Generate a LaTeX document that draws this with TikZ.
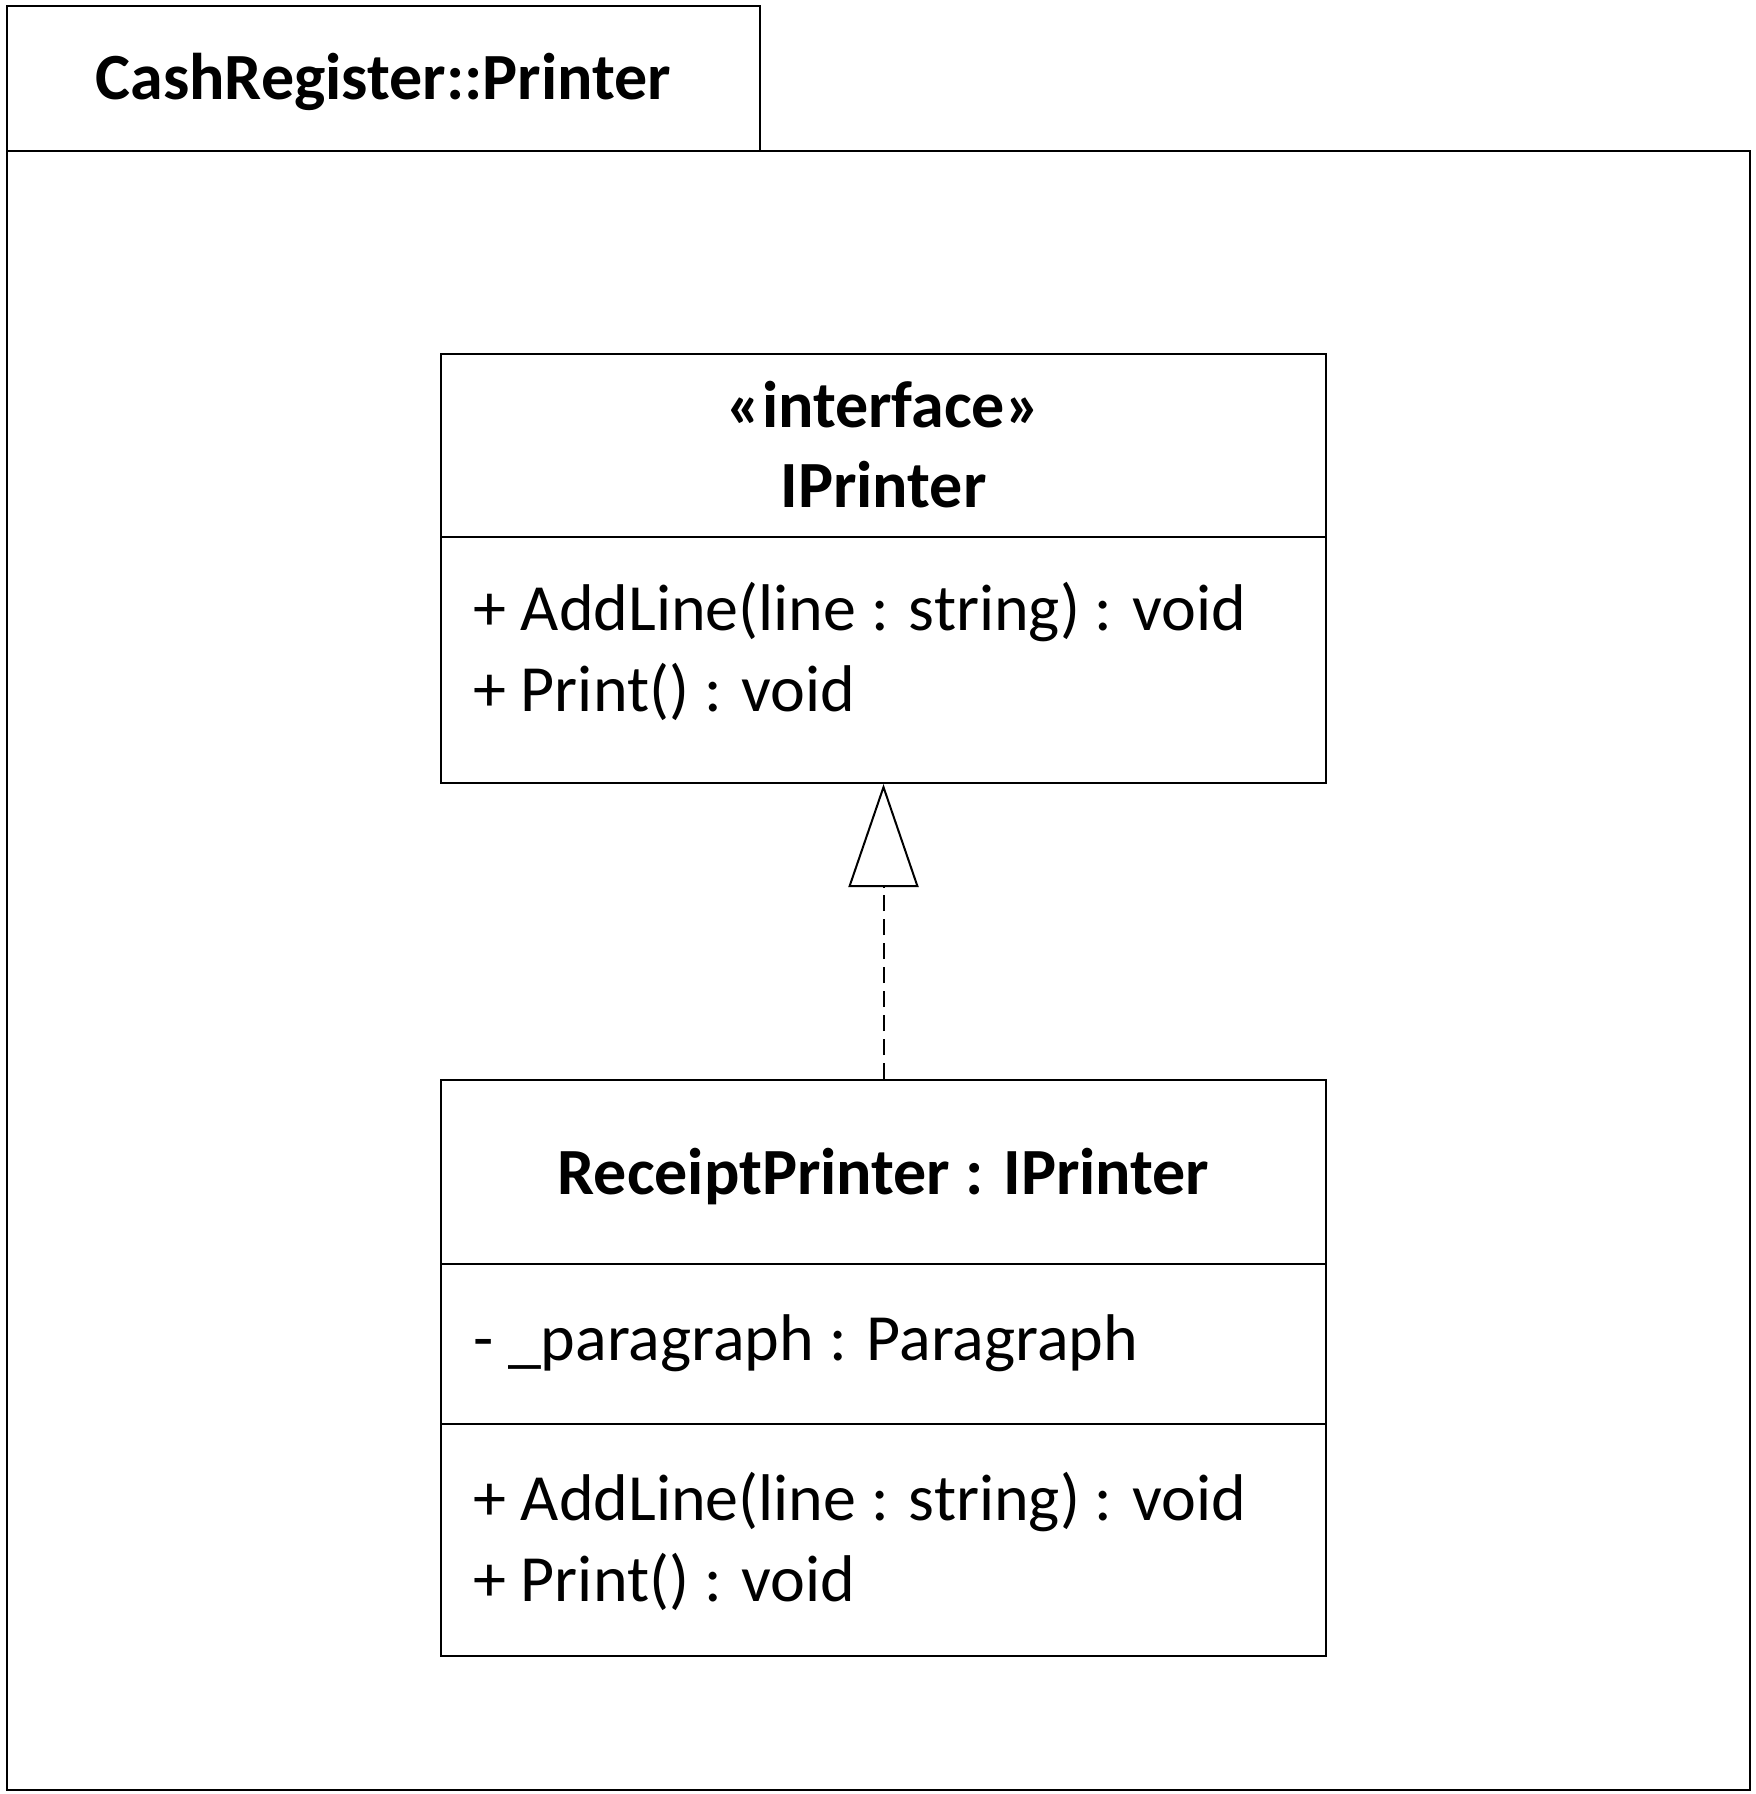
\documentclass[tikz,border=0pt]{standalone}
\usepackage{fontspec}
\setmainfont{Carlito}
\usetikzlibrary{arrows.meta, positioning}
\newcommand{\umlsize}{\fontsize{33}{40.5}\selectfont}
\tikzstyle{pkgtab} = [rectangle, 
minimum width=376.65pt, 
minimum height=72.7pt, 
anchor=north west, 
inner sep=0pt, 
draw=black]
\tikzstyle{pkgbody} = [rectangle, 
minimum width=871.65pt, 
minimum height=819.5pt, 
anchor=north west, 
inner sep=0pt, 
draw=black]
\tikzstyle{classbox} = [rectangle, 
minimum width=442.5pt, 
anchor=north west, 
inner sep=0pt, 
draw=black]
\tikzstyle{title} = [font=\umlsize\bfseries, anchor=base, inner sep=0pt]
\tikzstyle{member} = [font=\umlsize, anchor=base west, inner sep=0pt]
\tikzstyle{realize} = [dash pattern=on 8pt off 4pt, 
-{Triangle[open, width=35pt, length=51.5pt]}]

\begin{document}
\begin{tikzpicture}[x=0.5pt, y=-0.5pt, line width=1pt]
\useasboundingbox (0,0) rectangle (1756,1794);

% package frame
\node (tab) [pkgtab] at (5.7,4.6) {};
\node (body) [pkgbody] at (5.7,150) {};
\node (pkgname) [title] at (tab.center |- 0,99) {CashRegister::Printer};

% interface
\node (iprinter) [classbox, minimum height=214.5pt] at (440,353) {};
\draw (iprinter.west |- 0,537) -- (iprinter.east |- 0,537);
\node (stereo) [title] at (iprinter.center |- 0,427) {«interface»};
\node (iname) [title] at (iprinter.center |- 0,507) {IPrinter};
\node (iadd) [member] at (472,630) {+ AddLine(line : string) : void};
\node (iprint) [member] at (472,711) {+ Print() : void};

% implementing class
\node (receipt) [classbox, minimum height=288pt] at (440,1079) {};
\draw (receipt.west |- 0,1264) -- (receipt.east |- 0,1264);
\draw (receipt.west |- 0,1424) -- (receipt.east |- 0,1424);
\node (rname) [title] at (receipt.center |- 0,1194) {ReceiptPrinter : IPrinter};
\node (rfield) [member] at (472,1360) {- \_paragraph : Paragraph};
\node (radd) [member] at (472,1520) {+ AddLine(line : string) : void};
\node (rprint) [member] at (472,1601) {+ Print() : void};

\draw [realize] (receipt.north) -- (iprinter.south);

\end{tikzpicture}
\end{document}
